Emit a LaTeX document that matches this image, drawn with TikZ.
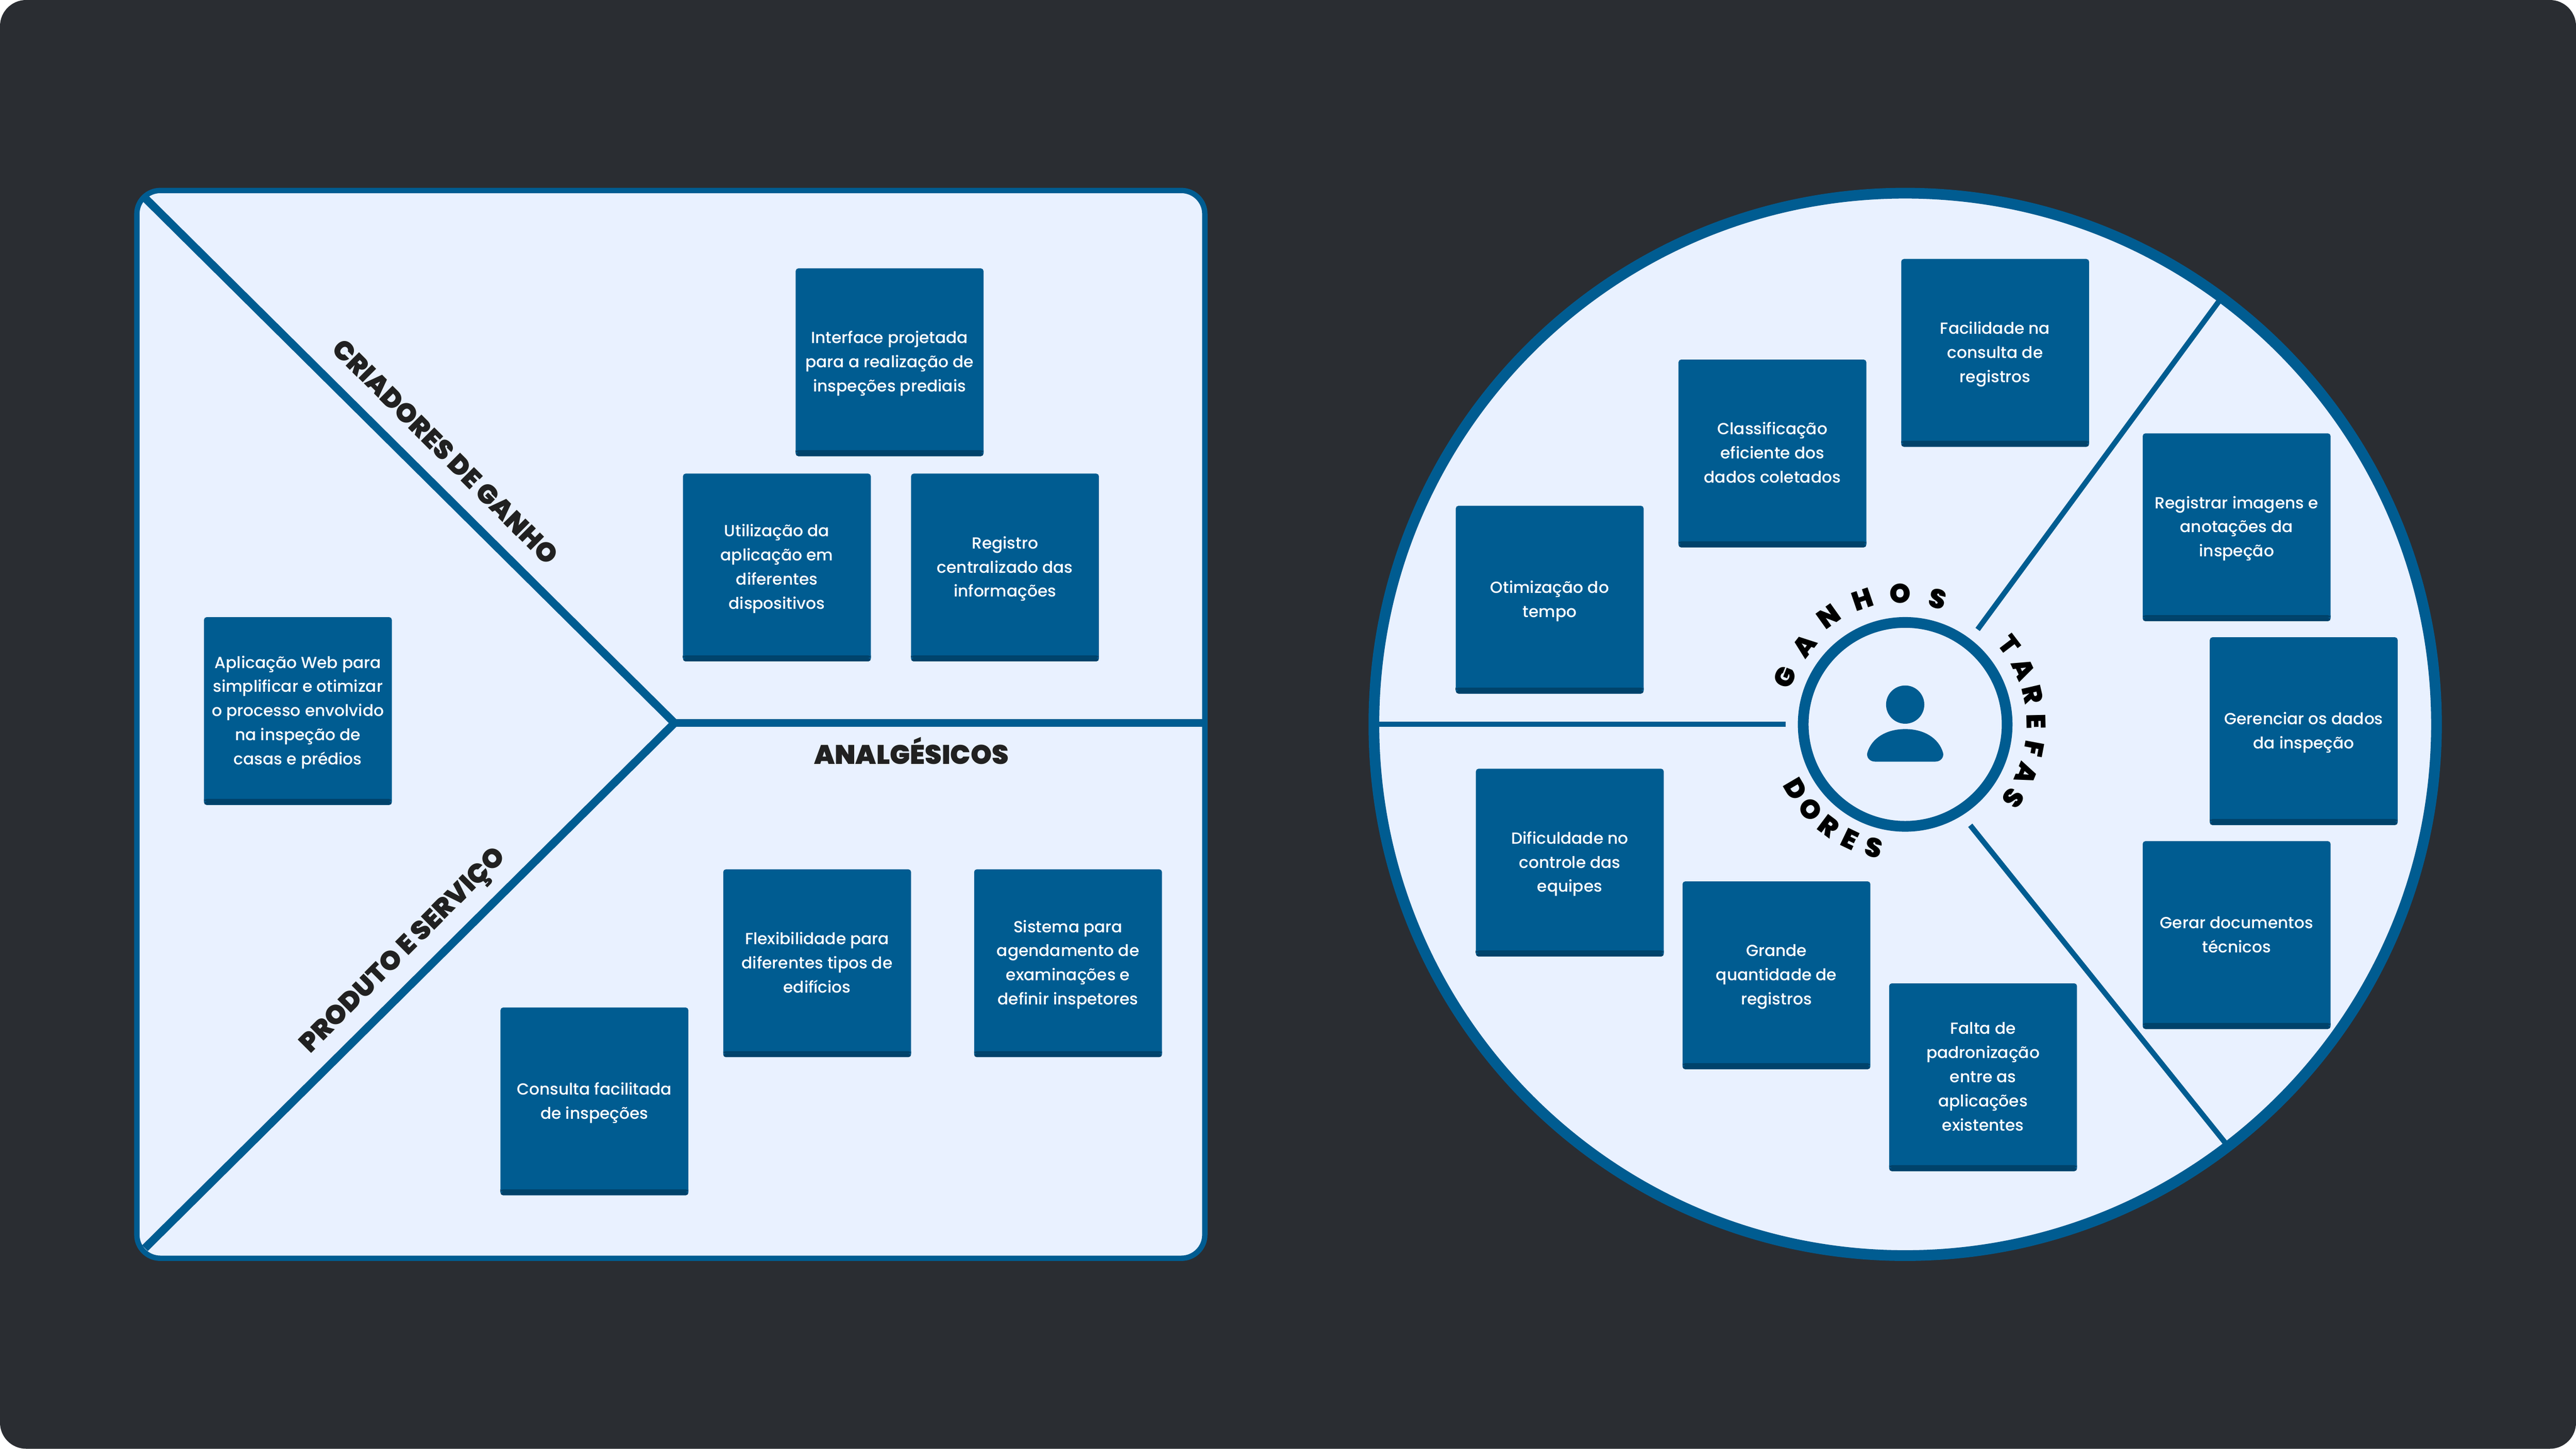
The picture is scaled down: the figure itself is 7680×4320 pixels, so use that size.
\documentclass[tikz,border=0pt]{standalone}
\usepackage{fontspec}
\usetikzlibrary{calc}
\setmainfont{Poppins Medium}
\newfontfamily\lab{Poppins Black}
\definecolor{bgc}{HTML}{2A2D32}
\definecolor{paper}{HTML}{E9F1FF}
\definecolor{blu}{HTML}{005C91}
\definecolor{blud}{HTML}{00426A}
\definecolor{ink}{HTML}{212121}
\tikzset{
  cardbox/.style={rectangle,rounded corners=8pt,minimum width=560pt,minimum height=560pt,inner sep=0pt,anchor=north west,fill=blu,text=white,align=center,
    font=\fontsize{48}{72}\selectfont,
    path picture={
      \shade[top color=blu,bottom color=blud] ($(path picture bounding box.south west)+(0,-18)$) rectangle ($(path picture bounding box.south east)+(0,-10)$);
      \fill[blud] ($(path picture bounding box.south west)+(0,-10)$) rectangle (path picture bounding box.south east);
    }},
  biglabel/.style={inner sep=0pt,text=ink,font=\lab\fontsize{80}{80}\selectfont},
  ringletter/.style={inner sep=0pt,text=black,font=\lab\fontsize{80}{80}\selectfont},
  thick line/.style={draw=blu,line width=24pt},
  thin line/.style={draw=blu,line width=16pt}
}
\newcommand{\cardat}[4]{\node[cardbox] (#1) at (#2,#3) {\rule{0pt}{52pt}#4\rule[-20pt]{0pt}{20pt}};}
\begin{document}
\begin{tikzpicture}[x=1pt,y=-1pt]
\useasboundingbox (0,0) rectangle (7680,4320);
\fill[white] (0,0) rectangle (7680,4320);
\fill[bgc,rounded corners=78pt] (0,0) rectangle (7680,4320);
% left panel
\coordinate (ptl) at (408,568);
\coordinate (pbr) at (3592,3752);
\fill[paper,rounded corners=70pt] (ptl) rectangle (pbr);
\coordinate (v) at (2011,2156);
\coordinate (cnw) at (432,590);
\coordinate (csw) at (432,3722);
\coordinate (ce) at (3596,2156);
\draw[thick line,miter limit=10] (cnw) -- (v) -- (csw);
\draw[thick line] (2008,2156) -- (ce);
\draw[draw=blu,line width=16pt,rounded corners=70pt] (ptl) rectangle (pbr);
% left labels
\node[biglabel,rotate=-45] (lcri) at (1328,1347) {CRIADORES DE GANHO};
\node[biglabel,rotate=45] (lpro) at (1205,2838) {PRODUTO E SERVIÇO};
\node[biglabel] (lana) at (2717,2238) {ANALGÉSICOS};
% left cards
\cardat{c1}{2372}{800}{Interface projetada\\para a realização de\\inspeções prediais}
\cardat{c2}{2036}{1412}{Utilização da\\aplicação em\\diferentes\\dispositivos}
\cardat{c3}{2716}{1412}{Registro\\centralizado das\\informações}
\cardat{c4}{608}{1840}{Aplicação Web para\\simplificar e otimizar\\o processo envolvido\\na inspeção de\\casas e prédios}
\cardat{c5}{2156}{2592}{Flexibilidade para\\diferentes tipos de\\edifícios}
\cardat{c6}{2904}{2592}{Sistema para\\agendamento de\\examinações e\\definir inspetores}
\cardat{c7}{1492}{3004}{Consulta facilitada\\de inspeções}
% right circle
\coordinate (cc) at (5680,2160);
\fill[paper] (cc) circle[radius=1584pt];
\coordinate (rw) at (4100,2160);
\coordinate (rwi) at (5324,2160);
\coordinate (rne) at (6620,892);
\coordinate (rnei) at (5896,1877);
\coordinate (rse) at (6636,3410);
\coordinate (rsei) at (5874,2461);
\draw[thin line] (rw) -- (rwi);
\draw[thin line] (rne) -- (rnei);
\draw[thin line] (rse) -- (rsei);
\draw[draw=blu,line width=32pt] (cc) circle[radius=1584pt];
\node[circle,draw=blu,line width=32pt,minimum size=608pt,inner sep=0pt,fill=paper] (hub) at (cc) {};
\fill[blu] (5680,2101) circle[radius=57pt];
\fill[blu] (5590,2271) -- (5770,2271) .. controls (5786,2271) and (5796,2258) .. (5793,2245) .. controls (5780,2200) and (5735,2174) .. (5680,2174) .. controls (5625,2174) and (5580,2200) .. (5567,2245) .. controls (5564,2258) and (5574,2271) .. (5590,2271) -- cycle;
% ring letters
\foreach \a/\l/\n/\r in {-68.5/G/1/385,-52/A/2/381,-35.4/N/3/394,-18.8/H/4/394,-2.2/O/5/391,14.5/S/6/386}
  \node[ringletter,rotate=-\a] (g\n) at ({5680+\r*sin(\a)},{2160-\r*cos(\a)}) {\l};
\foreach \a/\l/\n in {52.7/T/1,65/A/2,76.9/R/3,88.7/E/4,100.7/F/5,112.3/A/6,124.3/S/7}
  \node[ringletter,rotate=-\a] (t\n) at ({5680+390*sin(\a)},{2160-390*cos(\a)}) {\l};
\foreach \a/\l/\n in {59.5/D/1,48/O/2,36.9/R/3,25.7/E/4,14.3/S/5}
  \node[ringletter,rotate=-\a] (d\n) at ({5680-380*sin(\a)},{2160+380*cos(\a)}) {\l};
% right cards
\cardat{r1}{5668}{772}{Facilidade na\\consulta de\\registros}
\cardat{r2}{5004}{1072}{Classificação\\eficiente dos\\dados coletados}
\cardat{r3}{4340}{1508}{Otimização do\\tempo}
\cardat{r4}{6388}{1292}{Registrar imagens e\\anotações da\\inspeção}
\cardat{r5}{6588}{1900}{Gerenciar os dados\\da inspeção}
\cardat{r6}{6388}{2508}{Gerar documentos\\técnicos}
\cardat{r7}{4400}{2292}{Dificuldade no\\controle das\\equipes}
\cardat{r8}{5016}{2628}{Grande\\quantidade de\\registros}
\cardat{r9}{5632}{2932}{Falta de\\padronização\\entre as\\aplicações\\existentes}
\end{tikzpicture}
\end{document}
